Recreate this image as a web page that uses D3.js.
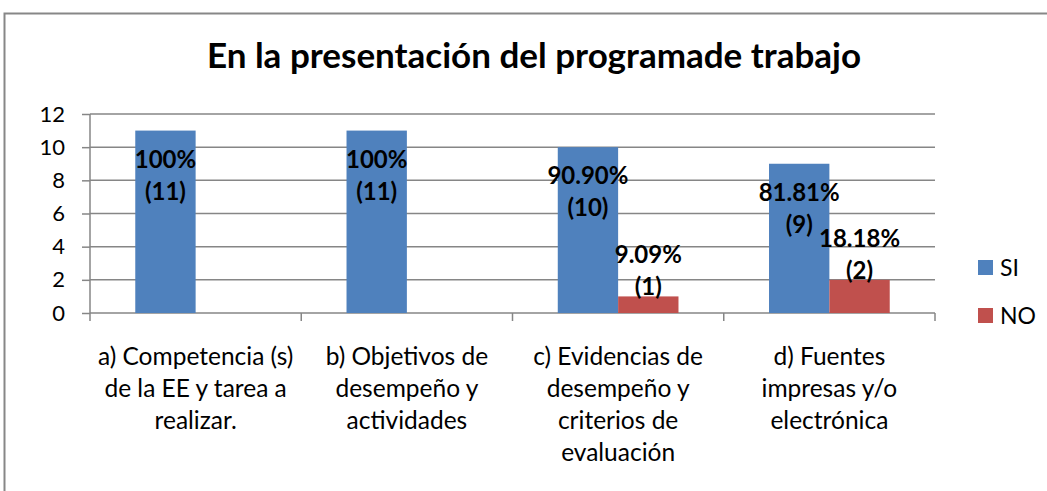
<!DOCTYPE html>
<html><head><meta charset="utf-8">
<script src="https://cdn.jsdelivr.net/npm/d3@7"></script>
<style>body{margin:0;background:#fff}svg{display:block;font-family:Lato,"Open Sans",sans-serif}</style>
</head><body>
<svg id="c" width="1047" height="491"></svg>
<script>
const title = "En la presentación del programade trabajo";
const categories = ["a","b","c","d"];
const categoryLabels = [
  ["a) Competencia (s)","de la EE y tarea a","realizar."],
  ["b) Objetivos de","desempeño y","actividades"],
  ["c) Evidencias de","desempeño y","criterios de","evaluación"],
  ["d) Fuentes","impresas y/o","electrónica"]
];
const seriesNames = ["SI","NO"];
const siValues = [11, 11, 10, 9];
const noValues = [0, 0, 1, 2];
const siLabels = [["100%","(11)"],["100%","(11)"],["90.90%","(10)"],["81.81%","(9)"]];
const noLabels = [null, null, ["9.09%","(1)"],["18.18%","(2)"]];
const yTicks = [0,2,4,6,8,10,12];
const colors = ["#4F81BD","#C0504D"];

const svg = d3.select("#c");
const L = 90, R = 935, T = 114, B = 313;

// outer border
svg.append("rect").attr("x",4.5).attr("y",13.5).attr("width",1100).attr("height",600)
  .attr("fill","none").attr("stroke","#878787").attr("stroke-width",2);

svg.append("text").attr("x",534).attr("y",68).attr("text-anchor","middle")
  .attr("font-size",35).attr("font-weight","bold").attr("fill","#000").text(title);

const x = d3.scaleBand().domain(categories).range([L,R]);
const y = d3.scaleLinear().domain([0,12]).range([B,T]);
const bw = x.bandwidth()/3.5;

// gridlines
svg.append("g").selectAll("line").data(yTicks.filter(d=>d>0)).join("line")
  .attr("x1",L).attr("x2",R).attr("y1",d=>y(d)).attr("y2",d=>y(d))
  .attr("stroke","#868686").attr("stroke-width",1.5);

// y axis
const ya = svg.append("g").attr("transform",`translate(${L},0)`)
  .call(d3.axisLeft(y).tickValues(yTicks).tickSize(8).tickPadding(17));
ya.select(".domain").attr("stroke","#868686").attr("stroke-width",1.5).attr("d",`M0,${T}V${B}`);
ya.selectAll(".tick line").attr("stroke","#868686").attr("stroke-width",1.5);
ya.selectAll(".tick text").attr("font-size",22).attr("font-family","Lato").attr("fill","#000");

// x axis
const xa = svg.append("g").attr("transform",`translate(0,${B})`);
xa.append("line").attr("x1",L).attr("x2",R).attr("stroke","#868686").attr("stroke-width",1.5);
const bounds = categories.map(c=>x(c)).concat([R]);
xa.selectAll("line.t").data(bounds).join("line").attr("class","t")
  .attr("x1",d=>d).attr("x2",d=>d).attr("y1",0).attr("y2",8)
  .attr("stroke","#868686").attr("stroke-width",1.5);

// bars
const series = [siValues, noValues];
series.forEach((vals,si)=>{
  svg.append("g").selectAll("rect").data(vals.map((v,i)=>({v,c:categories[i]}))).join("rect")
    .attr("x",d=>x(d.c)+x.bandwidth()/2 - bw + si*bw)
    .attr("y",d=>y(d.v)).attr("width",bw).attr("height",d=>y(0)-y(d.v))
    .attr("fill",colors[si]);
});

// value labels
function drawLabels(labs, si, vals){
  labs.forEach((lab,i)=>{
    if(!lab) return;
    const cx = x(categories[i]) + x.bandwidth()/2 - bw/2 + si*bw;
    const top = si===0 ? y(vals[i]) + 37 : y(vals[i]) - 33;
    const t = svg.append("text").attr("text-anchor","middle").attr("font-size",24)
      .attr("font-weight","bold").attr("fill","#000");
    lab.forEach((s,k)=>t.append("tspan").attr("x",cx).attr("y",top + k*32).text(s));
  });
}
drawLabels(siLabels,0,siValues);
drawLabels(noLabels,1,noValues);

// category labels
categoryLabels.forEach((lines,i)=>{
  const t = svg.append("text").attr("text-anchor","middle").attr("font-size",24.5).attr("fill","#000");
  lines.forEach((s,k)=>t.append("tspan").attr("x",x(categories[i])+x.bandwidth()/2).attr("y",365+k*32).text(s));
});

// legend
const lg = svg.append("g");
seriesNames.forEach((n,i)=>{
  const yy = 260 + i*48;
  lg.append("rect").attr("x",978).attr("y",yy).attr("width",15).attr("height",15).attr("fill",colors[i]);
  lg.append("text").attr("x",1000).attr("y",yy+16).attr("font-size",23).attr("fill","#000").text(n);
});
</script>
</body></html>
